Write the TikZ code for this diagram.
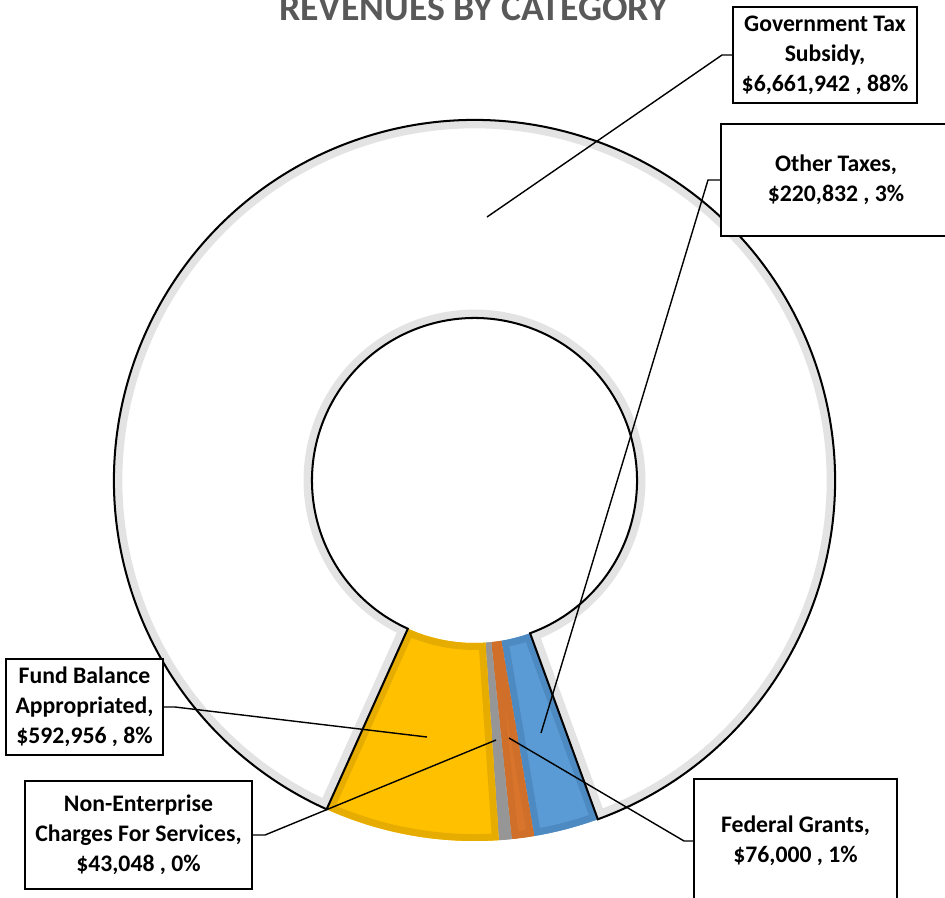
\documentclass[tikz,border=0pt]{standalone}
\usepackage{fontspec}
\setmainfont{Carlito}
\usetikzlibrary{calc}

\definecolor{govgrey}{HTML}{E3E3E3}
\definecolor{taxblue}{HTML}{5B9BD5}
\definecolor{taxblueedge}{HTML}{4E8AC2}
\definecolor{grantorange}{HTML}{D8742C}
\definecolor{grantorangeedge}{HTML}{D06F29}
\definecolor{chargegrey}{HTML}{9C9C9C}
\definecolor{chargegreyedge}{HTML}{969696}
\definecolor{fundyellow}{HTML}{FFC000}
\definecolor{fundyellowedge}{HTML}{E6AC00}
\definecolor{titlegrey}{HTML}{595959}

\tikzset{
		labelbox/.style = {shape=rectangle, draw, line width=0.85pt,
				fill=white, align=center, inner sep=0pt,
				font=\bfseries\fontsize{13.5}{17}\selectfont},
		charttitle/.style = {font=\bfseries\fontsize{21.5}{26}\selectfont,
				text=titlegrey, anchor=base},
		leader/.style   = {draw, line width=0.8pt},
		ringedge/.style = {draw=black, line width=1.15pt, line join=miter}
	}

\begin{document}
\begin{tikzpicture}
		[x = 0.02cm, y = 0.02cm]
		\useasboundingbox (0,0) rectangle (945,897);
		\clip (0,0) rectangle (945,897);

		% donut, centre of the ring
		\begin{scope}[shift={(474.5,416.5)}]
			% largest part, white with grey inner band
			\begin{scope}
				\clip (-70:360.5) arc[start angle=-70, end angle=245.78, radius=360.5]
				-- (245.78:162.5) arc[start angle=245.78, end angle=-70, radius=162.5] -- cycle;
				\fill[white, draw=govgrey, line width=9.6pt]
				(-70:360.5) arc[start angle=-70, end angle=245.78, radius=360.5]
				-- (245.78:162.5) arc[start angle=245.78, end angle=-70, radius=162.5] -- cycle;
			\end{scope}
			% coloured parts
			\foreach \a/\b/\fc/\ec in {-80.47/-70/taxblue/taxblueedge,
					-84.07/-80.47/grantorange/grantorangeedge,
					-86.11/-84.07/chargegrey/chargegreyedge,
					-114.22/-86.11/fundyellow/fundyellowedge}
				{
					\begin{scope}
						\clip (\a:360.5) arc[start angle=\a, end angle=\b, radius=360.5]
						-- (\b:162.5) arc[start angle=\b, end angle=\a, radius=162.5] -- cycle;
						\fill[fill=\fc, draw=\ec, line width=7.9pt]
						(\a:360.5) arc[start angle=\a, end angle=\b, radius=360.5]
						-- (\b:162.5) arc[start angle=\b, end angle=\a, radius=162.5] -- cycle;
					\end{scope}
				}
			\draw[ringedge] (-70:360.5) arc[start angle=-70, end angle=245.78, radius=360.5]
			-- (245.78:162.5) arc[start angle=245.78, end angle=-70, radius=162.5] -- cycle;
		\end{scope}

		\node[charttitle] (title) at (473.5,876) {REVENUES BY CATEGORY};

		% data labels
		\node[labelbox, minimum width=3.68cm, minimum height=1.92cm] (gov) at (825,842)
		{Government Tax\\Subsidy,\\\$6,661,942 , 88\%};
		\node[labelbox, minimum width=4.6cm, minimum height=2.24cm] (other) at (836,717)
		{Other Taxes,\\\$220,832 , 3\%};
		\node[labelbox, minimum width=3.14cm, minimum height=1.92cm] (fund) at (84.5,190)
		{Fund Balance\\Appropriated,\\\$592,956 , 8\%};
		\node[labelbox, minimum width=4.54cm, minimum height=2.16cm] (charges) at (138.5,62)
		{Non-Enterprise\\Charges For Services,\\\$43,048 , 0\%};
		\node[labelbox, minimum width=4.06cm, minimum height=2.48cm] (federal) at (795.5,56)
		{Federal Grants,\\\$76,000 , 1\%};

		% leader lines
		\coordinate (govpt)     at (487,680);
		\coordinate (otherpt)   at (541,164);
		\coordinate (fundpt)    at (427,160);
		\coordinate (chargespt) at (496,157);
		\coordinate (federalpt) at (509,159);
		\draw[leader] (govpt) -- (722,842) -- (gov.west);
		\draw[leader] (otherpt) -- (708,717) -- (other.west);
		\draw[leader] (fundpt) -- (175,190) -- (fund.east);
		\draw[leader] (chargespt) -- (265,62) -- (charges.east);
		\draw[leader] (federalpt) -- (684,56) -- (federal.west);
	\end{tikzpicture}
\end{document}
